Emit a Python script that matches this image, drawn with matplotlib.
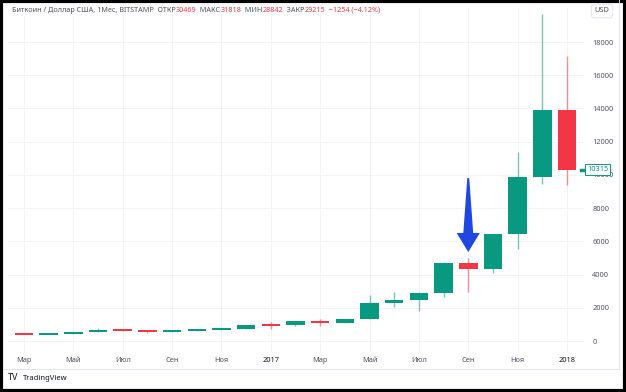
import matplotlib.pyplot as plt
import matplotlib.transforms as mtransforms
from matplotlib.patches import Rectangle, Polygon
import numpy as np

plt.rcParams['font.family'] = ['Noto Sans', 'DejaVu Sans']

# месячные свечи BTC/USD, Bitstamp, март 2016 - январь 2018
months = ['2016-03', '2016-04', '2016-05', '2016-06', '2016-07', '2016-08', '2016-09',
          '2016-10', '2016-11', '2016-12', '2017-01', '2017-02', '2017-03', '2017-04',
          '2017-05', '2017-06', '2017-07', '2017-08', '2017-09', '2017-10', '2017-11',
          '2017-12', '2018-01']
opens = [435, 416, 448, 531, 673, 624, 573, 609, 698, 742, 966, 965, 1190, 1079,
         1348, 2300, 2480, 2875, 4710, 4340, 6450, 9900, 13880]
highs = [439, 466, 549, 778, 704, 627, 615, 713, 754, 975, 1155, 1203, 1350, 1350,
         2763, 2980, 2930, 4760, 4975, 6470, 11395, 19666, 17180]
lows = [406, 415, 440, 525, 595, 480, 566, 602, 686, 740, 752, 915, 890, 1058,
        1347, 2074, 1830, 2672, 2980, 4110, 5555, 9450, 9400]
closes = [416, 448, 531, 673, 624, 573, 609, 698, 742, 964, 965, 1190, 1079, 1348,
          2300, 2480, 2875, 4710, 4340, 6450, 9900, 13880, 10315]

tick_idx = [0, 2, 4, 6, 8, 10, 12, 14, 16, 18, 20, 22]
tick_labels = ['Мар', 'Май', 'Июл', 'Сен', 'Ноя', '2017', 'Мар', 'Май', 'Июл', 'Сен', 'Ноя', '2018']
y_ticks = [0, 2000, 4000, 6000, 8000, 10000, 12000, 14000, 16000, 18000]

header = [('Биткоин / Доллар США, 1Мес, BITSTAMP  ОТКР', 'grey'), ('30469', 'red'),
          ('  МАКС', 'grey'), ('31818', 'red'), ('  МИН', 'grey'), ('28842', 'red'),
          ('  ЗАКР', 'grey'), ('29215', 'red'), ('  −1254 (−4.12%)', 'red')]
arrow_month = '2017-09'

GREEN = '#089981'
RED = '#f23645'
TXT = '#50535e'

W, H = 626, 392
fig = plt.figure(figsize=(W / 100, H / 100), dpi=100)
ax = fig.add_axes([8 / W, 1 - 352 / H, (584 - 8) / W, (352 - 8) / H])

x = np.arange(len(months))
min_body = 130  # ~2 px, чтобы мелкие свечи были видны
for i in x:
    up = closes[i] >= opens[i]
    col = GREEN if up else RED
    ax.vlines(i, lows[i], highs[i], color=col, lw=1, alpha=0.55, zorder=2)
    lo, hi = min(opens[i], closes[i]), max(opens[i], closes[i])
    if hi - lo < min_body:
        mid = (hi + lo) / 2
        lo, hi = mid - min_body / 2, mid + min_body / 2
    ax.add_patch(Rectangle((i - 0.375, lo), 0.75, hi - lo, color=col, lw=0, zorder=3))

# синяя стрелка над сентябрьской свечой
k = months.index(arrow_month)
tip = highs[k] + 380
poly = [(k, tip), (k - 0.47, tip + 1150), (k - 0.2, tip + 1150), (k - 0.04, tip + 4450),
        (k + 0.04, tip + 4450), (k + 0.2, tip + 1150), (k + 0.47, tip + 1150)]
ax.add_patch(Polygon(poly, closed=True, color='#1f48e0', lw=0, zorder=5))

ax.set_xlim(-0.648, 22.69)
ax.set_ylim(-662, 20047)
ax.set_xticks(tick_idx)
ax.set_xticklabels(tick_labels)
for lab in ax.get_xticklabels():
    if lab.get_text().isdigit():
        lab.set_fontweight('bold')
        lab.set_color('#131722')
    else:
        lab.set_color(TXT)
ax.tick_params(axis='x', length=0, pad=3.5, labelsize=5.3)
ax.yaxis.tick_right()
ax.set_yticks(y_ticks)
ax.tick_params(axis='y', length=0, pad=6, labelsize=5.3, labelcolor=TXT)
ax.grid(True, color='#f3f4f6', lw=0.7)
ax.set_axisbelow(True)
for s in ax.spines.values():
    s.set_visible(False)

# метка последней цены
trans = mtransforms.blended_transform_factory(ax.transAxes, ax.transData)
ax.plot([0.994, 1.0], [closes[-1]] * 2, color=GREEN, lw=2.5, transform=trans, clip_on=False)
ax.text(1.005, closes[-1], f'{closes[-1]}', transform=trans, ha='left', va='center',
        fontsize=5.3, color=GREEN,
        bbox=dict(boxstyle='square,pad=0.25', fc='white', ec=GREEN, lw=0.7))

# рамки и разделители
fig.add_artist(plt.Line2D([619 / W, 619 / W], [1 - 369 / H, 1], color='#e0e3eb', lw=0.7))
fig.add_artist(plt.Line2D([3 / W, 619 / W], [1 - 369 / H] * 2, color='#e0e3eb', lw=0.7))
fig.add_artist(Rectangle((0.002, 0.003), 0.996, 0.994, transform=fig.transFigure,
                         fill=False, ec='black', lw=3))

# заголовок из цветных кусков
fig.canvas.draw()
renderer = fig.canvas.get_renderer()
px = 12
for txt, c in header:
    t = fig.text(px / W, 1 - 10 / H, txt, fontsize=5.2, va='center', ha='left',
                 color=TXT if c == 'grey' else RED)
    px += t.get_window_extent(renderer).width

fig.text(602 / W, 1 - 11 / H, 'USD', fontsize=5.3, color=TXT, ha='center', va='center',
         bbox=dict(boxstyle='round,pad=0.45', fc='white', ec='#e0e3eb', lw=0.7))

fig.text(8 / W, 1 - 378 / H, 'TV', fontsize=6.5, fontweight='heavy', color='#131722', va='center')
fig.text(23 / W, 1 - 378 / H, 'TradingView', fontsize=5.5, color='#131722', va='center')

fig.savefig('out.png', dpi=100)
